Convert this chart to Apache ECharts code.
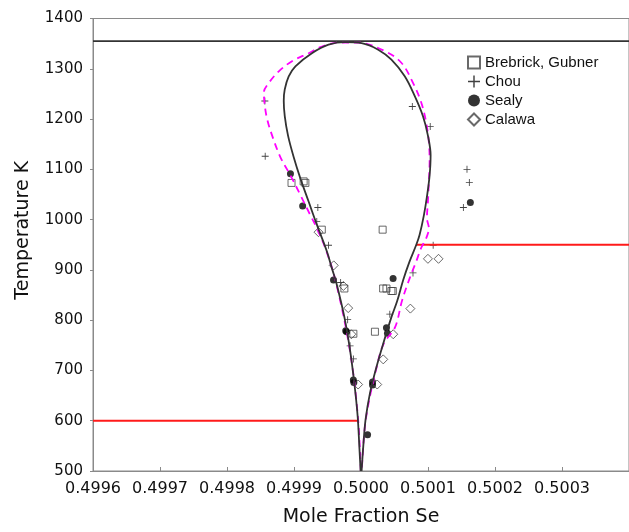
<!DOCTYPE html>
<html>
<head>
<meta charset="utf-8">
<script src="https://cdn.jsdelivr.net/npm/echarts@6/dist/echarts.min.js"></script>
<style>
  html, body { margin: 0; padding: 0; background: #fff; }
  #chart { width: 629px; height: 532px; }
</style>
</head>
<body>
<div id="chart"></div>
<script>
// axis settings
var xMin = 0.4996, xMax = 0.5004, xStep = 0.0001;
var tMin = 500, tMax = 1400, tStep = 100;

// solid model curve (mole fraction Se, temperature K)
var solidCurve = [
  [0.4999994, 500], [0.4999975, 549], [0.4999950, 609], [0.4999901, 674],
  [0.4999837, 740], [0.4999752, 806], [0.4999638, 871], [0.4999564, 904],
  [0.4999490, 937], [0.4999341, 990], [0.4999218, 1036], [0.4999095, 1082],
  [0.4998996, 1124], [0.4998911, 1167], [0.4998862, 1206], [0.4998847, 1236],
  [0.4998862, 1259], [0.4998921, 1285], [0.4999021, 1305], [0.4999267, 1331],
  [0.4999515, 1348], [0.4999763, 1353], [0.5000009, 1351], [0.5000257, 1338],
  [0.5000454, 1318], [0.5000653, 1285], [0.5000801, 1246], [0.5000924, 1206],
  [0.5000999, 1167], [0.5001039, 1128], [0.5001024, 1088], [0.5000988, 1049],
  [0.5000939, 1009], [0.5000875, 970], [0.5000825, 950], [0.5000720, 915],
  [0.5000630, 880], [0.5000540, 838], [0.5000454, 806], [0.5000331, 753],
  [0.5000231, 707], [0.5000134, 655], [0.5000068, 602], [0.5000034, 549],
  [0.5000009, 500]
];

// dashed (magenta) model curve
var dashedCurve = [
  [0.4999997, 500], [0.4999953, 609], [0.4999834, 740], [0.4999634, 871],
  [0.4999485, 937], [0.4999341, 983], [0.4999243, 1009], [0.4999095, 1049],
  [0.4998947, 1088], [0.4998798, 1124], [0.4998674, 1167], [0.4998599, 1200],
  [0.4998565, 1226], [0.4998550, 1253], [0.4998625, 1272], [0.4998773, 1295],
  [0.4998970, 1315], [0.4999218, 1331], [0.4999415, 1344], [0.4999663, 1352],
  [0.4999960, 1352], [0.5000356, 1335], [0.5000602, 1312], [0.5000776, 1272],
  [0.5000899, 1233], [0.5000973, 1193], [0.5001013, 1154], [0.5001024, 1115],
  [0.5001013, 1075], [0.5000999, 1036], [0.5000984, 1003], [0.5001013, 983],
  [0.5000973, 963], [0.5000899, 944], [0.5000825, 917], [0.5000731, 885],
  [0.5000613, 839], [0.5000509, 786], [0.5000338, 753], [0.5000234, 707],
  [0.5000071, 602], [0.5000012, 500]
];

// reference lines
var topLine = [[0.4996, 1355], [0.5004, 1355]];
var redLow = [[0.4996, 600], [0.4999970, 600]];
var redHigh = [[0.5000820, 950], [0.5004, 950]];

// measured points
var brebrick = [
  [0.4998963, 1073], [0.4999144, 1076], [0.4999170, 1073],
  [0.4999415, 980], [0.5000323, 980],
  [0.4999752, 863], [0.5000330, 863], [0.5000380, 863], [0.5000454, 858], [0.5000475, 858],
  [0.5000208, 777], [0.4999886, 773]
];
var chou = [
  [0.4998565, 1236], [0.4998570, 1126], [0.5000766, 1225], [0.5001033, 1185],
  [0.4999356, 1024], [0.4999340, 996], [0.4999515, 949], [0.5001077, 949],
  [0.5001582, 1100], [0.5001617, 1074], [0.5001528, 1024], [0.5000776, 894],
  [0.4999696, 875], [0.4999801, 801], [0.5000430, 812], [0.4999837, 749],
  [0.4999886, 723]
];
var sealy = [
  [0.4998947, 1091], [0.4999129, 1027], [0.5001632, 1034],
  [0.4999590, 880], [0.5000479, 883],
  [0.4999772, 779], [0.4999785, 777], [0.5000380, 785], [0.5000395, 774],
  [0.4999886, 681], [0.4999893, 676], [0.5000172, 677], [0.5000172, 671],
  [0.5000098, 572]
];
var calawa = [
  [0.4999366, 975], [0.4999593, 909], [0.5000999, 922], [0.5001157, 922],
  [0.4999737, 868], [0.4999809, 824], [0.5000737, 823], [0.5000481, 772],
  [0.4999856, 772], [0.5000332, 722], [0.4999957, 672], [0.5000242, 672]
];

var plusPath = 'path://M4.4,0H5.6V4.4H10V5.6H5.6V10H4.4V5.6H0V4.4H4.4Z';

var chart = echarts.init(document.getElementById('chart'));
chart.setOption({
  animation: false,
  backgroundColor: '#fff',
  grid: {
    left: 93, top: 18.5, width: 539.4, height: 456.5,
    show: true, borderColor: '#8a8a8a', borderWidth: 1
  },
  legend: {
    data: ['Brebrick, Gubner', 'Chou', 'Sealy', 'Calawa'],
    orient: 'vertical',
    left: 462, top: 48,
    itemWidth: 12, itemHeight: 12, itemGap: 0,
    selectedMode: false,
    textStyle: { fontFamily: 'Liberation Sans', fontSize: 15, color: '#111', lineHeight: 19 }
  },
  xAxis: {
    type: 'value',
    min: xMin, max: xMax, interval: xStep,
    name: 'Mole Fraction Se',
    nameLocation: 'middle', nameGap: 37,
    nameTextStyle: { fontFamily: 'DejaVu Sans', fontSize: 19, color: '#111' },
    axisLine: { lineStyle: { color: '#8a8a8a', width: 1 } },
    axisTick: { inside: true, length: 4, lineStyle: { color: '#8a8a8a' } },
    axisLabel: {
      margin: 10, showMaxLabel: false,
      fontFamily: 'DejaVu Sans', fontSize: 16, color: '#111',
      formatter: function (v) { return v > 0.50035 ? '' : v.toFixed(4); }
    },
    splitLine: { show: false }
  },
  yAxis: {
    type: 'value',
    min: tMin, max: tMax, interval: tStep,
    name: 'Temperature K',
    nameLocation: 'middle', nameGap: 60, nameRotate: 90,
    nameTextStyle: { fontFamily: 'DejaVu Sans', fontSize: 19, color: '#111', padding: [0, 0, 0, 29] },
    axisLine: { show: true, lineStyle: { color: '#8a8a8a', width: 1 } },
    axisTick: { show: true, length: 3, lineStyle: { color: '#8a8a8a' } },
    axisLabel: {
      margin: 10, fontFamily: 'DejaVu Sans', fontSize: 15, color: '#111',
      formatter: function (v) { return String(v); }
    },
    splitLine: { show: false }
  },
  series: [
    {
      name: 'top', type: 'line', data: topLine, symbol: 'none',
      lineStyle: { color: '#333', width: 1.6 }, silent: true
    },
    {
      name: 'red600', type: 'line', data: redLow, symbol: 'none',
      lineStyle: { color: '#ff1a1a', width: 2 }, silent: true
    },
    {
      name: 'red950', type: 'line', data: redHigh, symbol: 'none',
      lineStyle: { color: '#ff1a1a', width: 2 }, silent: true
    },
    {
      name: 'dashed', type: 'line', data: dashedCurve, symbol: 'none', smooth: 0.35,
      lineStyle: { color: '#ff00ff', width: 1.8, type: [7, 5] }, silent: true
    },
    {
      name: 'solid', type: 'line', data: solidCurve, symbol: 'none', smooth: 0.35,
      lineStyle: { color: '#333', width: 1.8 }, silent: true
    },
    {
      name: 'Brebrick, Gubner', type: 'scatter', data: brebrick,
      symbol: 'rect', symbolSize: 7,
      itemStyle: { color: 'rgba(255,255,255,0)', borderColor: '#444', borderWidth: 1 }
    },
    {
      name: 'Chou', type: 'scatter', data: chou,
      symbol: plusPath, symbolSize: 7,
      itemStyle: { color: '#111' }
    },
    {
      name: 'Sealy', type: 'scatter', data: sealy,
      symbol: 'circle', symbolSize: 7,
      itemStyle: { color: '#000' }
    },
    {
      name: 'Calawa', type: 'scatter', data: calawa,
      symbol: 'diamond', symbolSize: 9,
      itemStyle: { color: 'rgba(255,255,255,0)', borderColor: '#444', borderWidth: 1 }
    }
  ]
});
</script>
</body>
</html>
